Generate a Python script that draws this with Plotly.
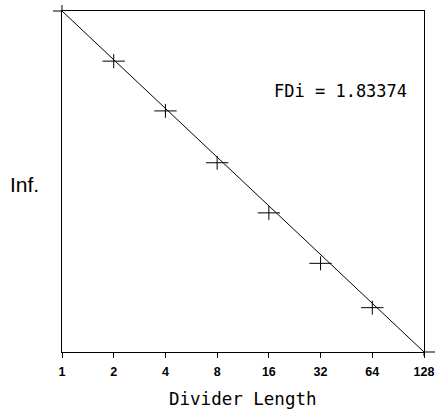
import plotly.graph_objects as go

# Data
divider_lengths = [2, 4, 8, 16, 32, 64]
inf_values = [0.853, 0.707, 0.555, 0.408, 0.260, 0.130]
fit_x = [1, 128]
fit_y = [1.0, 0.0]
tick_values = [1, 2, 4, 8, 16, 32, 64, 128]
tick_labels = ["1", "2", "4", "8", "16", "32", "64", "128"]
fd_label = "FDi = 1.83374"
x_title = "Divider Length"
y_title = "Inf."

fig = go.Figure()
fig.add_trace(go.Scatter(x=fit_x, y=fit_y, mode="lines",
                         line=dict(color="black", width=1), showlegend=False))
fig.add_trace(go.Scatter(x=divider_lengths, y=inf_values, mode="markers",
                         marker=dict(symbol="line-ew", size=16,
                                     line=dict(color="black", width=1)),
                         showlegend=False))
fig.add_trace(go.Scatter(x=divider_lengths, y=inf_values, mode="markers",
                         marker=dict(symbol="line-ns", size=10,
                                     line=dict(color="black", width=1)),
                         showlegend=False))

L, R, T, B = 62, 12, 11, 57
W, H = 436, 409
pw, ph = W - L - R, H - T - B

fig.update_layout(
    width=W, height=H,
    margin=dict(l=L, r=R, t=T, b=B, autoexpand=False),
    plot_bgcolor="white", paper_bgcolor="white",
    xaxis=dict(type="log", range=[0, 2.10721], tickvals=tick_values, ticktext=tick_labels,
               ticks="outside", ticklen=5, tickwidth=1, tickcolor="black",
               ticklabelstandoff=3,
               showline=True, linecolor="black", linewidth=1, mirror=True,
               showgrid=False, zeroline=False, automargin=False,
               tickfont=dict(family="Liberation Sans Narrow, Liberation Sans, sans-serif",
                             size=12.5, color="black", weight="bold")),
    yaxis=dict(range=[0, 1], showticklabels=False, ticks="",
               showline=True, linecolor="black", linewidth=1, mirror=True,
               showgrid=False, zeroline=False, automargin=False),
    annotations=[
        dict(text=y_title, xref="paper", yref="paper", x=-38/pw, y=0.5 - 3/ph,
             showarrow=False, xanchor="center", yanchor="middle",
             font=dict(family="Liberation Sans, sans-serif", size=21, color="black")),
        dict(text=fd_label, xref="paper", yref="paper", x=(340 - L)/pw, y=1 - (91 - T)/ph,
             showarrow=False, xanchor="center", yanchor="middle",
             font=dict(family="DejaVu Sans Mono, monospace", size=17, color="black")),
        dict(text=x_title, xref="paper", yref="paper", x=(243 - L)/pw, y=-(399 - 352)/ph,
             showarrow=False, xanchor="center", yanchor="middle",
             font=dict(family="DejaVu Sans Mono, monospace", size=17.5, color="black")),
    ],
    shapes=[
        dict(type="line", xref="paper", yref="paper", x0=-9/pw, x1=0, y0=1, y1=1,
             line=dict(color="black", width=1)),
        dict(type="line", xref="paper", yref="paper", x0=0, x1=0, y0=1, y1=1 + 6/ph,
             line=dict(color="black", width=1)),
        dict(type="line", xref="paper", yref="paper", x0=1, x1=1 + 11/pw, y0=0, y1=0,
             line=dict(color="black", width=1)),
        dict(type="line", xref="paper", yref="paper", x0=1, x1=1, y0=0, y1=-4/ph,
             line=dict(color="black", width=1)),
    ],
)

fig.write_html("out.html", config={"displayModeBar": False},
               post_script="document.body.style.margin='0';document.body.style.overflow='hidden';")
